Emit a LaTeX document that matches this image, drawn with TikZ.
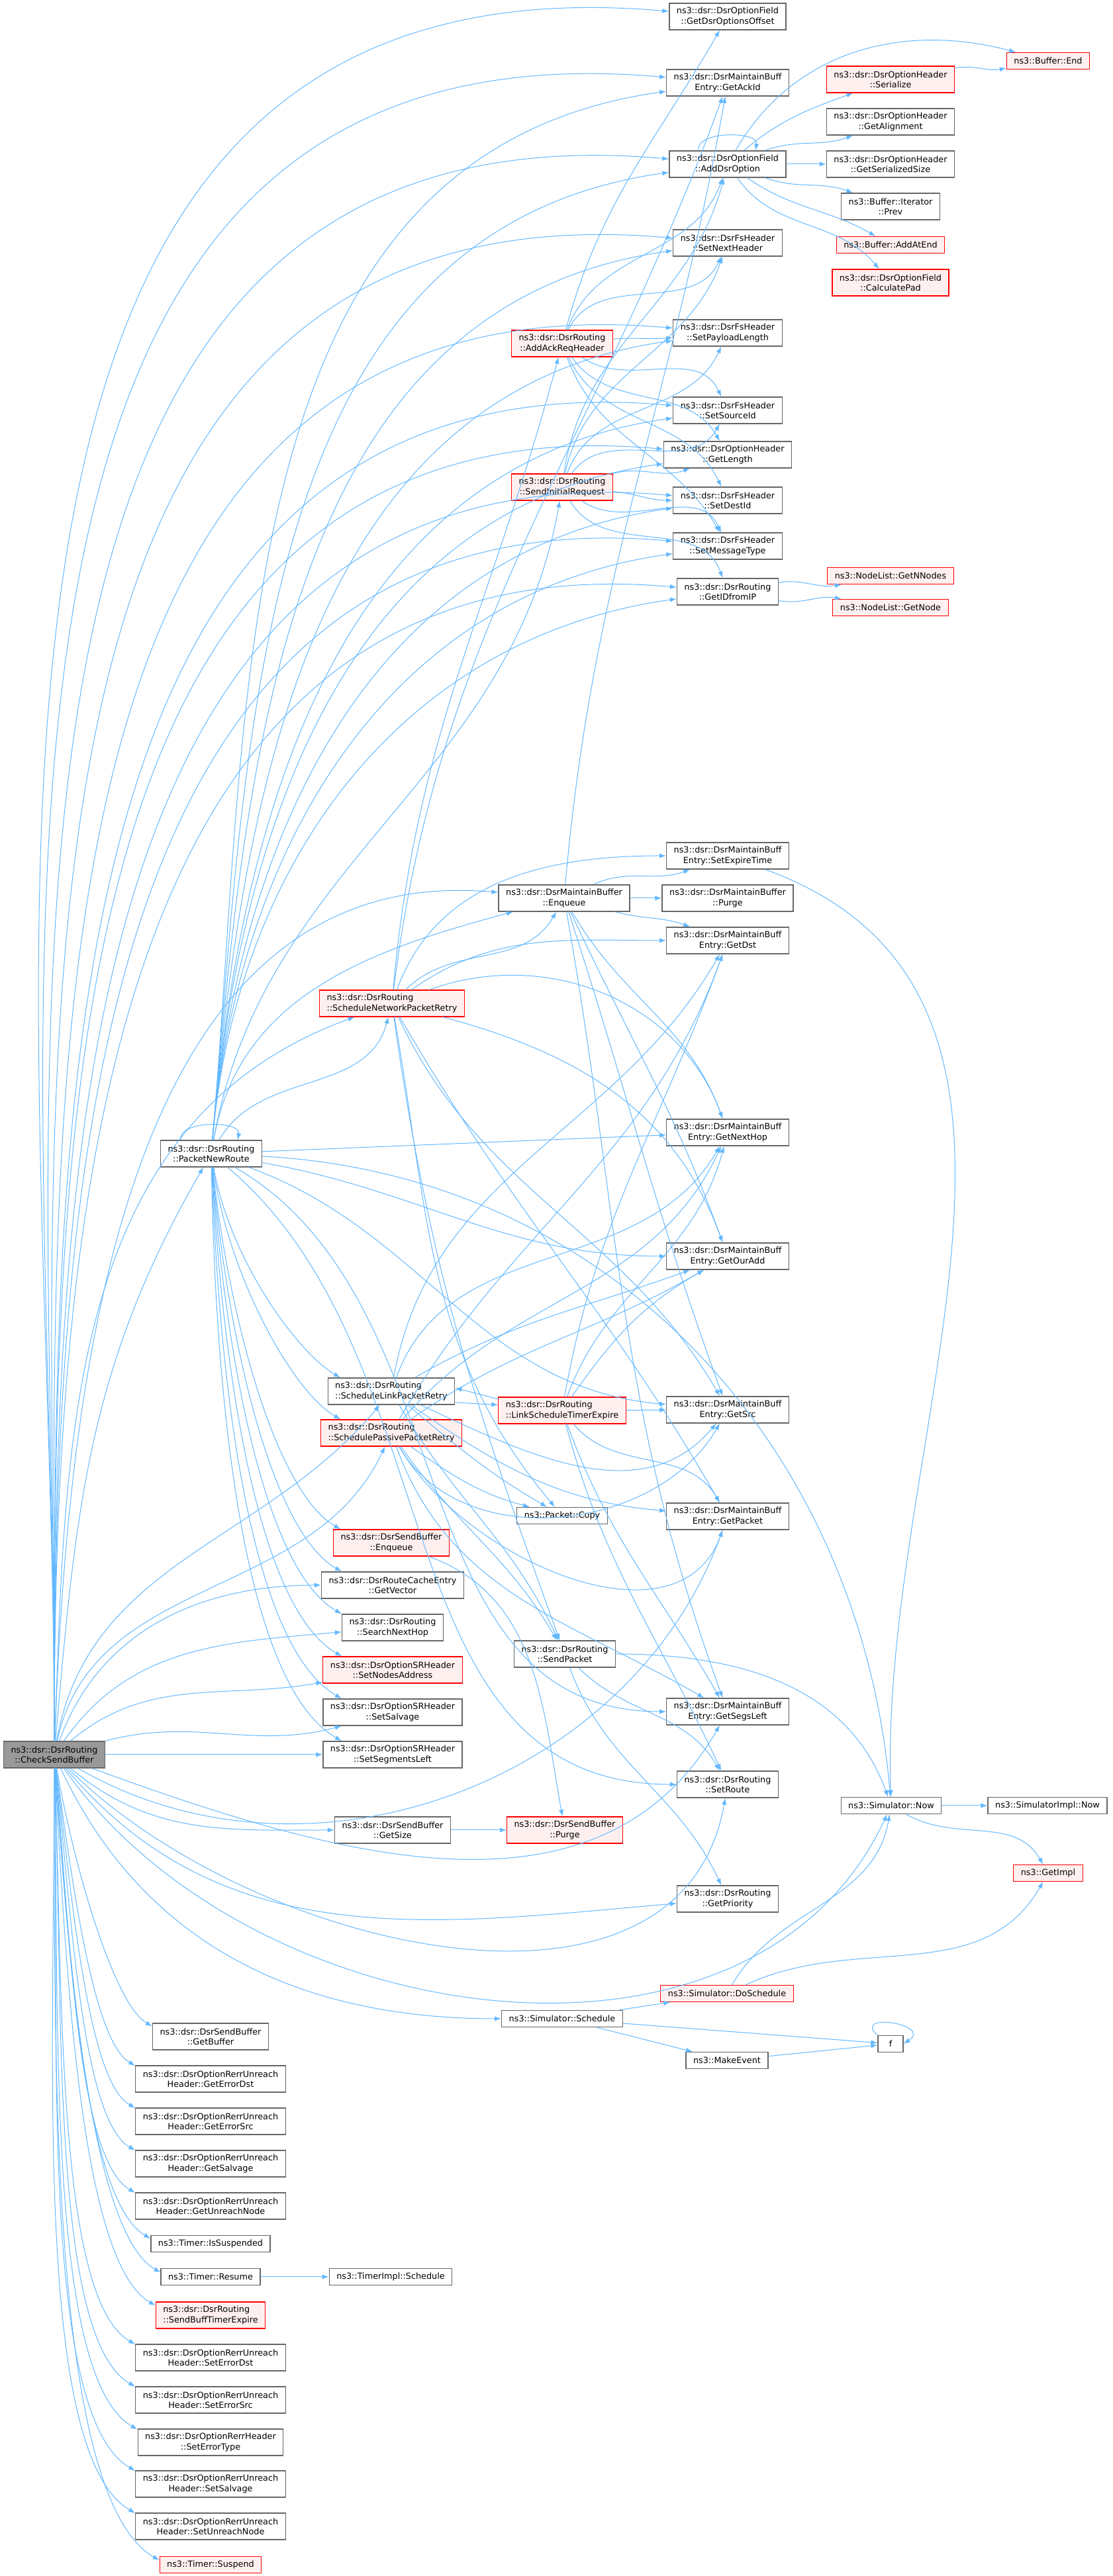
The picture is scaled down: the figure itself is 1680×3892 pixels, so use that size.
\documentclass[tikz,border=0pt]{standalone}
\usepackage{fontspec}
\usepackage{tikz}
\usetikzlibrary{arrows.meta}
\newfontfamily\dxfont{DejaVu Sans}
\definecolor{linkblue}{HTML}{63B8FF}
\definecolor{boxgray}{HTML}{666666}
\definecolor{rootgray}{HTML}{999999}
\definecolor{redfill}{HTML}{FFF0F0}

\begin{document}
\begin{tikzpicture}[x=0.2pt, y=0.2pt,
    fn/.style={draw=boxgray, fill=white, line width=0.26pt, align=center,
      font=\dxfont\fontsize{2.56}{3.08}\selectfont, inner xsep=2.2pt, inner ysep=0.4pt,
      minimum height=8pt},
    fnred/.style={fn, draw=red, fill=redfill, line width=0.22pt},
    fnroot/.style={fn, fill=rootgray},
    one/.style={minimum height=5pt},
    lft/.style={align=left},
    dxarrow/.style={draw=linkblue, line width=0.2pt, -{Latex[length=2pt,width=1.44pt]}}]

        \useasboundingbox (0,0) rectangle (1680,3892);

        %Caller
        \node [fnroot] (csb) at (82,1241) {ns3::dsr::DsrRouting\\::CheckSendBuffer};

        %Second column
        \node [fn] (pnr) at (319,2149) {ns3::dsr::DsrRouting\\::PacketNewRoute};
        \node [fn] (gbuf) at (318,815) {ns3::dsr::DsrSendBuffer\\::GetBuffer};
        \node [fn] (ged) at (318,751) {ns3::dsr::DsrOptionRerrUnreach\\Header::GetErrorDst};
        \node [fn] (ges) at (318,687) {ns3::dsr::DsrOptionRerrUnreach\\Header::GetErrorSrc};
        \node [fn] (gsal) at (318,623) {ns3::dsr::DsrOptionRerrUnreach\\Header::GetSalvage};
        \node [fn] (gun) at (318,559) {ns3::dsr::DsrOptionRerrUnreach\\Header::GetUnreachNode};
        \node [fn, one] (tis) at (318,502) {ns3::Timer::IsSuspended};
        \node [fn, one] (tres) at (318,452) {ns3::Timer::Resume};
        \node [fnred, lft] (sbte) at (318,394) {ns3::dsr::DsrRouting\\::SendBuffTimerExpire};
        \node [fn] (sed) at (318,330) {ns3::dsr::DsrOptionRerrUnreach\\Header::SetErrorDst};
        \node [fn] (ses) at (318,266) {ns3::dsr::DsrOptionRerrUnreach\\Header::SetErrorSrc};
        \node [fn] (setp) at (318,202) {ns3::dsr::DsrOptionRerrHeader\\::SetErrorType};
        \node [fn] (ssv) at (318,139) {ns3::dsr::DsrOptionRerrUnreach\\Header::SetSalvage};
        \node [fn] (sun) at (318,75) {ns3::dsr::DsrOptionRerrUnreach\\Header::SetUnreachNode};
        \node [fnred, one] (tsus) at (318,17) {ns3::Timer::Suspend};

        %Third column
        \node [fnred, lft] (snpr) at (592,2376) {ns3::dsr::DsrRouting\\::ScheduleNetworkPacketRetry};
        \node [fn, lft] (slpr) at (591,1790) {ns3::dsr::DsrRouting\\::ScheduleLinkPacketRetry};
        \node [fnred, lft] (sppr) at (591,1727) {ns3::dsr::DsrRouting\\::SchedulePassivePacketRetry};
        \node [fnred] (sbe) at (591,1561) {ns3::dsr::DsrSendBuffer\\::Enqueue};
        \node [fn] (gvec) at (593,1497) {ns3::dsr::DsrRouteCacheEntry\\::GetVector};
        \node [fn] (ssnh) at (593,1433) {ns3::dsr::DsrRouting\\::SearchNextHop};
        \node [fnred] (sna) at (593,1369) {ns3::dsr::DsrOptionSRHeader\\::SetNodesAddress};
        \node [fn] (ssal) at (593,1305) {ns3::dsr::DsrOptionSRHeader\\::SetSalvage};
        \node [fn] (sseg) at (593,1241) {ns3::dsr::DsrOptionSRHeader\\::SetSegmentsLeft};
        \node [fn] (gsz) at (593,1127) {ns3::dsr::DsrSendBuffer\\::GetSize};
        \node [fn, one] (timpl) at (590,452) {ns3::TimerImpl::Schedule};

        %Fourth column
        \node [fnred] (aarh) at (849,3373) {ns3::dsr::DsrRouting\\::AddAckReqHeader};
        \node [fnred] (sir) at (849,3156) {ns3::dsr::DsrRouting\\::SendInitialRequest};
        \node [fn] (mbe) at (852,2535) {ns3::dsr::DsrMaintainBuffer\\::Enqueue};
        \node [fnred, lft] (lste) at (849,1761) {ns3::dsr::DsrRouting\\::LinkScheduleTimerExpire};
        \node [fn, one] (pcopy) at (849,1602) {ns3::Packet::Copy};
        \node [fn] (spk) at (853,1393) {ns3::dsr::DsrRouting\\::SendPacket};
        \node [fnred] (sbp) at (853,1127) {ns3::dsr::DsrSendBuffer\\::Purge};
        \node [fn, one] (ssch) at (849,842) {ns3::Simulator::Schedule};

        %Fifth column
        \node [fn] (goo) at (1099,3867) {ns3::dsr::DsrOptionField\\::GetDsrOptionsOffset};
        \node [fn] (gack) at (1099,3767) {ns3::dsr::DsrMaintainBuff\\Entry::GetAckId};
        \node [fn] (ado) at (1099,3644) {ns3::dsr::DsrOptionField\\::AddDsrOption};
        \node [fn] (snh) at (1099,3525) {ns3::dsr::DsrFsHeader\\::SetNextHeader};
        \node [fn] (spl) at (1099,3389) {ns3::dsr::DsrFsHeader\\::SetPayloadLength};
        \node [fn] (ssi) at (1099,3272) {ns3::dsr::DsrFsHeader\\::SetSourceId};
        \node [fn] (glen) at (1099,3205) {ns3::dsr::DsrOptionHeader\\::GetLength};
        \node [fn] (sdi) at (1099,3136) {ns3::dsr::DsrFsHeader\\::SetDestId};
        \node [fn] (smt) at (1099,3067) {ns3::dsr::DsrFsHeader\\::SetMessageType};
        \node [fn] (gid) at (1099,2998) {ns3::dsr::DsrRouting\\::GetIDfromIP};
        \node [fn] (sexp) at (1099,2599) {ns3::dsr::DsrMaintainBuff\\Entry::SetExpireTime};
        \node [fn] (mbp) at (1099,2535) {ns3::dsr::DsrMaintainBuffer\\::Purge};
        \node [fn] (gdst) at (1099,2471) {ns3::dsr::DsrMaintainBuff\\Entry::GetDst};
        \node [fn] (gnh) at (1099,2181) {ns3::dsr::DsrMaintainBuff\\Entry::GetNextHop};
        \node [fn] (goa) at (1099,1994) {ns3::dsr::DsrMaintainBuff\\Entry::GetOurAdd};
        \node [fn] (gsrc) at (1099,1762) {ns3::dsr::DsrMaintainBuff\\Entry::GetSrc};
        \node [fn] (gpkt) at (1099,1601) {ns3::dsr::DsrMaintainBuff\\Entry::GetPacket};
        \node [fn] (gsl) at (1099,1306) {ns3::dsr::DsrMaintainBuff\\Entry::GetSegsLeft};
        \node [fn] (srt) at (1099,1196) {ns3::dsr::DsrRouting\\::SetRoute};
        \node [fn] (gpri) at (1099,1023) {ns3::dsr::DsrRouting\\::GetPriority};
        \node [fnred, one] (dsch) at (1098,880) {ns3::Simulator::DoSchedule};
        \node [fn, one] (mev) at (1098,779) {ns3::MakeEvent};

        %Sixth column
        \node [fnred] (ser) at (1345,3772) {ns3::dsr::DsrOptionHeader\\::Serialize};
        \node [fn] (gal) at (1345,3708) {ns3::dsr::DsrOptionHeader\\::GetAlignment};
        \node [fn] (gss) at (1345,3644) {ns3::dsr::DsrOptionHeader\\::GetSerializedSize};
        \node [fn] (prev) at (1345,3580) {ns3::Buffer::Iterator\\::Prev};
        \node [fnred, one] (aae) at (1345,3522) {ns3::Buffer::AddAtEnd};
        \node [fnred] (cpad) at (1345,3465) {ns3::dsr::DsrOptionField\\::CalculatePad};
        \node [fnred, one] (gnn) at (1345,3022) {ns3::NodeList::GetNNodes};
        \node [fnred, one] (gnd) at (1345,2974) {ns3::NodeList::GetNode};
        \node [fn, one] (snow) at (1346,1164) {ns3::Simulator::Now};
        \node [fn, one, minimum width=7.6pt] (ff) at (1345,804) {f};

        %Seventh column
        \node [fnred, one] (bend) at (1583,3800) {ns3::Buffer::End};
        \node [fn, one] (simn) at (1582,1164) {ns3::SimulatorImpl::Now};
        \node [fnred, one] (gimp) at (1583,1062) {ns3::GetImpl};

        %CheckSendBuffer calls, upwards
        \draw [dxarrow] (csb) to[out=90,in=175,looseness=1.1] (goo);
        \draw [dxarrow] (csb) to[out=90,in=175,looseness=1.1] (gack);
        \draw [dxarrow] (csb) to[out=90,in=175,looseness=1.1] (ado);
        \draw [dxarrow] (csb) to[out=90,in=175,looseness=1.1] (snh);
        \draw [dxarrow] (csb) to[out=90,in=175,looseness=1.1] (spl);
        \draw [dxarrow] (csb) to[out=90,in=175,looseness=1.1] (ssi);
        \draw [dxarrow] (csb) to[out=90,in=175,looseness=1.1] (glen);
        \draw [dxarrow] (csb) to[out=90,in=175,looseness=1.1] (sdi);
        \draw [dxarrow] (csb) to[out=90,in=175,looseness=1.1] (smt);
        \draw [dxarrow] (csb) to[out=90,in=175,looseness=1.1] (gid);
        \draw [dxarrow] (csb) to[out=88,in=175] (mbe);
        \draw [dxarrow] (csb) to[out=88,in=200] (snpr);
        \draw [dxarrow] (csb) to[out=85,in=240] (pnr);
        \draw [dxarrow] (csb) to[out=80,in=230] (slpr);
        \draw [dxarrow] (csb) to[out=78,in=245] (sppr);
        \draw [dxarrow] (csb) to[out=70,in=180] (gvec);
        \draw [dxarrow] (csb) to[out=55,in=185] (ssnh);
        \draw [dxarrow] (csb) to[out=40,in=190] (sna);
        \draw [dxarrow] (csb) to[out=15,in=195] (ssal);
        \draw [dxarrow] (csb) -- (sseg);

        %CheckSendBuffer calls, to the right
        \draw [dxarrow] (csb) to[out=-20,in=-120] (gsl);
        \draw [dxarrow] (csb) to[out=-30,in=-110] (gpkt);
        \draw [dxarrow] (csb) to[out=-45,in=-100] (srt);
        \draw [dxarrow] (csb) to[out=-40,in=180] (gsz);
        \draw [dxarrow] (csb) to[out=-50,in=185] (gpri);
        \draw [dxarrow] (csb) to[out=-55,in=-115] (snow);
        \draw [dxarrow] (csb) to[out=-65,in=180] (ssch);

        %CheckSendBuffer calls, downwards
        \draw [dxarrow] (csb) to[out=-80,in=150,in looseness=0.4] (gbuf.170);
        \draw [dxarrow] (csb) to[out=-82,in=150,in looseness=0.4] (ged.170);
        \draw [dxarrow] (csb) to[out=-83,in=150,in looseness=0.4] (ges.170);
        \draw [dxarrow] (csb) to[out=-84,in=150,in looseness=0.4] (gsal.170);
        \draw [dxarrow] (csb) to[out=-85,in=150,in looseness=0.4] (gun.170);
        \draw [dxarrow] (csb) to[out=-86,in=150,in looseness=0.4] (tis.175);
        \draw [dxarrow] (csb) to[out=-86,in=150,in looseness=0.4] (tres.175);
        \draw [dxarrow] (csb) to[out=-87,in=150,in looseness=0.4] (sbte.170);
        \draw [dxarrow] (csb) to[out=-88,in=150,in looseness=0.4] (sed.170);
        \draw [dxarrow] (csb) to[out=-88,in=150,in looseness=0.4] (ses.170);
        \draw [dxarrow] (csb) to[out=-89,in=150,in looseness=0.4] (setp.170);
        \draw [dxarrow] (csb) to[out=-89,in=150,in looseness=0.4] (ssv.170);
        \draw [dxarrow] (csb) to[out=-90,in=150,in looseness=0.4] (sun.170);
        \draw [dxarrow] (csb) to[out=-90,in=150,in looseness=0.4] (tsus.175);

        %PacketNewRoute calls
        \draw [dxarrow] ([xshift=-9.2pt]pnr.north) to[out=100,in=80,looseness=0.9] ([xshift=8pt]pnr.north);
        \draw [dxarrow] (pnr) to[out=60,in=-105] (snpr);
        \draw [dxarrow] (pnr) to[out=80,in=195] (mbe);
        \draw [dxarrow] (pnr) to[out=80,in=-100] (sir);
        \draw [dxarrow] (pnr) to[out=85,in=188] (gack);
        \draw [dxarrow] (pnr) to[out=85,in=188] (ado);
        \draw [dxarrow] (pnr) to[out=85,in=188] (snh);
        \draw [dxarrow] (pnr) to[out=85,in=188] (spl);
        \draw [dxarrow] (pnr) to[out=85,in=188] (ssi);
        \draw [dxarrow] (pnr) to[out=85,in=188] (glen);
        \draw [dxarrow] (pnr) to[out=85,in=188] (sdi);
        \draw [dxarrow] (pnr) to[out=85,in=188] (smt);
        \draw [dxarrow] (pnr) to[out=85,in=188] (gid);
        \draw [dxarrow] (pnr) -- (gnh);
        \draw [dxarrow] (pnr) to[out=-10,in=180] (goa);
        \draw [dxarrow] (pnr) to[out=-3,in=95] (snow);
        \draw [dxarrow] (pnr) to[out=-20,in=175] (gsrc);
        \draw [dxarrow] (pnr) to[out=-30,in=180] (gsl);
        \draw [dxarrow] (pnr) to[out=-40,in=180] (srt);
        \draw [dxarrow] (pnr) to[out=-80,in=150,in looseness=0.5] (slpr.165);
        \draw [dxarrow] (pnr) to[out=-82,in=150,in looseness=0.5] (sppr.165);
        \draw [dxarrow] (pnr) to[out=-84,in=150,in looseness=0.5] (sbe.165);
        \draw [dxarrow] (pnr) to[out=-85,in=150,in looseness=0.5] (gvec.165);
        \draw [dxarrow] (pnr) to[out=-86,in=150,in looseness=0.5] (ssnh.165);
        \draw [dxarrow] (pnr) to[out=-87,in=150,in looseness=0.5] (sna.165);
        \draw [dxarrow] (pnr) to[out=-88,in=150,in looseness=0.5] (ssal.165);
        \draw [dxarrow] (pnr) to[out=-89,in=150,in looseness=0.5] (sseg.165);

        %ScheduleNetworkPacketRetry calls
        \draw [dxarrow] (snpr) to[out=85,in=-105] (aarh);
        \draw [dxarrow] (snpr) to[out=83,in=-110] (gack);
        \draw [dxarrow] (snpr) to[out=45,in=-120] (mbe);
        \draw [dxarrow] (snpr) to[out=70,in=180] (sexp);
        \draw [dxarrow] (snpr) to[out=35,in=180] (gdst);
        \draw [dxarrow] (snpr) to[out=20,in=110] (gnh);
        \draw [dxarrow] (snpr) to[out=-15,in=110] (goa);
        \draw [dxarrow] (snpr) to[out=-65,in=120] (gsrc);
        \draw [dxarrow] (snpr) to[out=-60,in=120] (gpkt);
        \draw [dxarrow] (snpr) to[out=-80,in=130] (pcopy);
        \draw [dxarrow] (snpr) to[out=-82,in=110] (spk);

        %DsrMaintainBuffer::Enqueue calls
        \draw [dxarrow] (mbe) -- (mbp);
        \draw [dxarrow] (mbe) to[out=25,in=200] (sexp);
        \draw [dxarrow] (mbe) to[out=-15,in=160] (gdst);
        \draw [dxarrow] (mbe) to[out=85,in=-100] (gack);
        \draw [dxarrow] (mbe) to[out=-60,in=110] (gnh);
        \draw [dxarrow] (mbe) to[out=-65,in=110] (goa);
        \draw [dxarrow] (mbe) to[out=-72,in=110] (gsrc);
        \draw [dxarrow] (mbe) to[out=-80,in=110] (gsl);

        %ScheduleLinkPacketRetry calls
        \draw [dxarrow] (slpr.-10) -- (lste.175);
        \draw [dxarrow] (slpr) to[out=-40,in=150] (pcopy);
        \draw [dxarrow] (slpr) to[out=-60,in=115] (spk);
        \draw [dxarrow] (slpr) to[out=80,in=-120] (gdst);
        \draw [dxarrow] (slpr) to[out=70,in=-120] (gnh);
        \draw [dxarrow] (slpr) to[out=30,in=-160] (goa);
        \draw [dxarrow] (slpr) to[out=-25,in=-130] (gsrc);
        \draw [dxarrow] (slpr) to[out=-35,in=175] (gpkt);

        %SchedulePassivePacketRetry calls
        \draw [dxarrow] (sppr) to[out=-35,in=165] (pcopy);
        \draw [dxarrow] (sppr) to[out=-55,in=120] (spk);
        \draw [dxarrow] (sppr) to[out=60,in=-110] (gdst);
        \draw [dxarrow] (sppr) to[out=50,in=-115] (gnh);
        \draw [dxarrow] (sppr) to[out=35,in=-150] (goa);
        \draw [dxarrow] (sppr) to[out=-60,in=-120] (gsrc);
        \draw [dxarrow] (sppr) to[out=-60,in=-110] (gpkt);
        \draw [dxarrow] (sppr) to[out=-70,in=150] (gsl);

        %LinkScheduleTimerExpire calls
        \draw [dxarrow] (lste.170) -- (slpr.3);
        \draw [dxarrow] (lste) to[out=80,in=-110] (gdst);
        \draw [dxarrow] (lste) to[out=70,in=-105] (gnh);
        \draw [dxarrow] (lste) to[out=55,in=-150] (goa);
        \draw [dxarrow] (lste) -- (gsrc);
        \draw [dxarrow] (lste) to[out=-50,in=120] (gpkt);
        \draw [dxarrow] (lste) to[out=-70,in=120] (gsl);
        \draw [dxarrow] (lste) to[out=-75,in=115] (srt);

        %SendPacket calls
        \draw [dxarrow] (spk) to[out=-45,in=120] (srt);
        \draw [dxarrow] (spk) to[out=-70,in=115] (gpri);
        \draw [dxarrow] (spk) to[out=0,in=110] (snow);

        %Send buffer calls
        \draw [dxarrow] (sbe) to[out=-20,in=100] (sbp);
        \draw [dxarrow] (gsz) -- (sbp);

        %AddAckReqHeader calls
        \draw [dxarrow] (aarh) to[out=75,in=-120] (goo);
        \draw [dxarrow] (aarh) to[out=70,in=-110] (ado);
        \draw [dxarrow] (aarh) to[out=65,in=-115] (snh);
        \draw [dxarrow] (aarh) to[out=5,in=185] (spl);
        \draw [dxarrow] (aarh) to[out=-35,in=115] (ssi);
        \draw [dxarrow] (aarh) to[out=-55,in=120] (glen);
        \draw [dxarrow] (aarh) to[out=-65,in=115] (sdi);
        \draw [dxarrow] (aarh) to[out=-70,in=120] (smt);

        %SendInitialRequest calls
        \draw [dxarrow] (sir) to[out=82,in=-105] (ado);
        \draw [dxarrow] (sir) to[out=78,in=-110] (snh);
        \draw [dxarrow] (sir) to[out=70,in=-115] (spl);
        \draw [dxarrow] (sir) to[out=55,in=-120] (ssi);
        \draw [dxarrow] (sir) to[out=15,in=200] (glen);
        \draw [dxarrow] (sir) to[out=-5,in=180] (sdi);
        \draw [dxarrow] (sir) to[out=-35,in=115] (smt);
        \draw [dxarrow] (sir) to[out=-60,in=110] (gid);

        %AddDsrOption calls
        \draw [dxarrow] ([xshift=-8.8pt]ado.north) to[out=100,in=80,looseness=0.9] ([xshift=8.4pt]ado.north);
        \draw [dxarrow] (ado) to[out=60,in=165] (bend);
        \draw [dxarrow] (ado) to[out=40,in=200] (ser);
        \draw [dxarrow] (ado) to[out=20,in=200] (gal);
        \draw [dxarrow] (ado) -- (gss);
        \draw [dxarrow] (ado) to[out=-20,in=160] (prev);
        \draw [dxarrow] (ado) to[out=-35,in=150] (aae);
        \draw [dxarrow] (ado) to[out=-55,in=130] (cpad);
        \draw [dxarrow] (ser) to[out=10,in=190] (bend);

        %GetIDfromIP calls
        \draw [dxarrow] (gid) to[out=10,in=190] (gnn);
        \draw [dxarrow] (gid) to[out=-10,in=170] (gnd);

        %Simulator
        \draw [dxarrow] (sexp) to[out=-20,in=92] (snow);
        \draw [dxarrow] (snow) -- (simn);
        \draw [dxarrow] (snow) to[out=-30,in=120] (gimp);
        \draw [dxarrow] (dsch) to[out=60,in=-100] (snow);
        \draw [dxarrow] (dsch) to[out=25,in=-120] (gimp);
        \draw [dxarrow] (ssch) -- (dsch);
        \draw [dxarrow] (ssch) -- (ff);
        \draw [dxarrow] (ssch) -- (mev);
        \draw [dxarrow] (mev) -- (ff);
        \draw [dxarrow] (ff.north west) .. controls +(-40,35) and +(45,30) .. (ff.east);

        %Timer
        \draw [dxarrow] (tres) -- (timpl);

      \end{tikzpicture}
\end{document}
